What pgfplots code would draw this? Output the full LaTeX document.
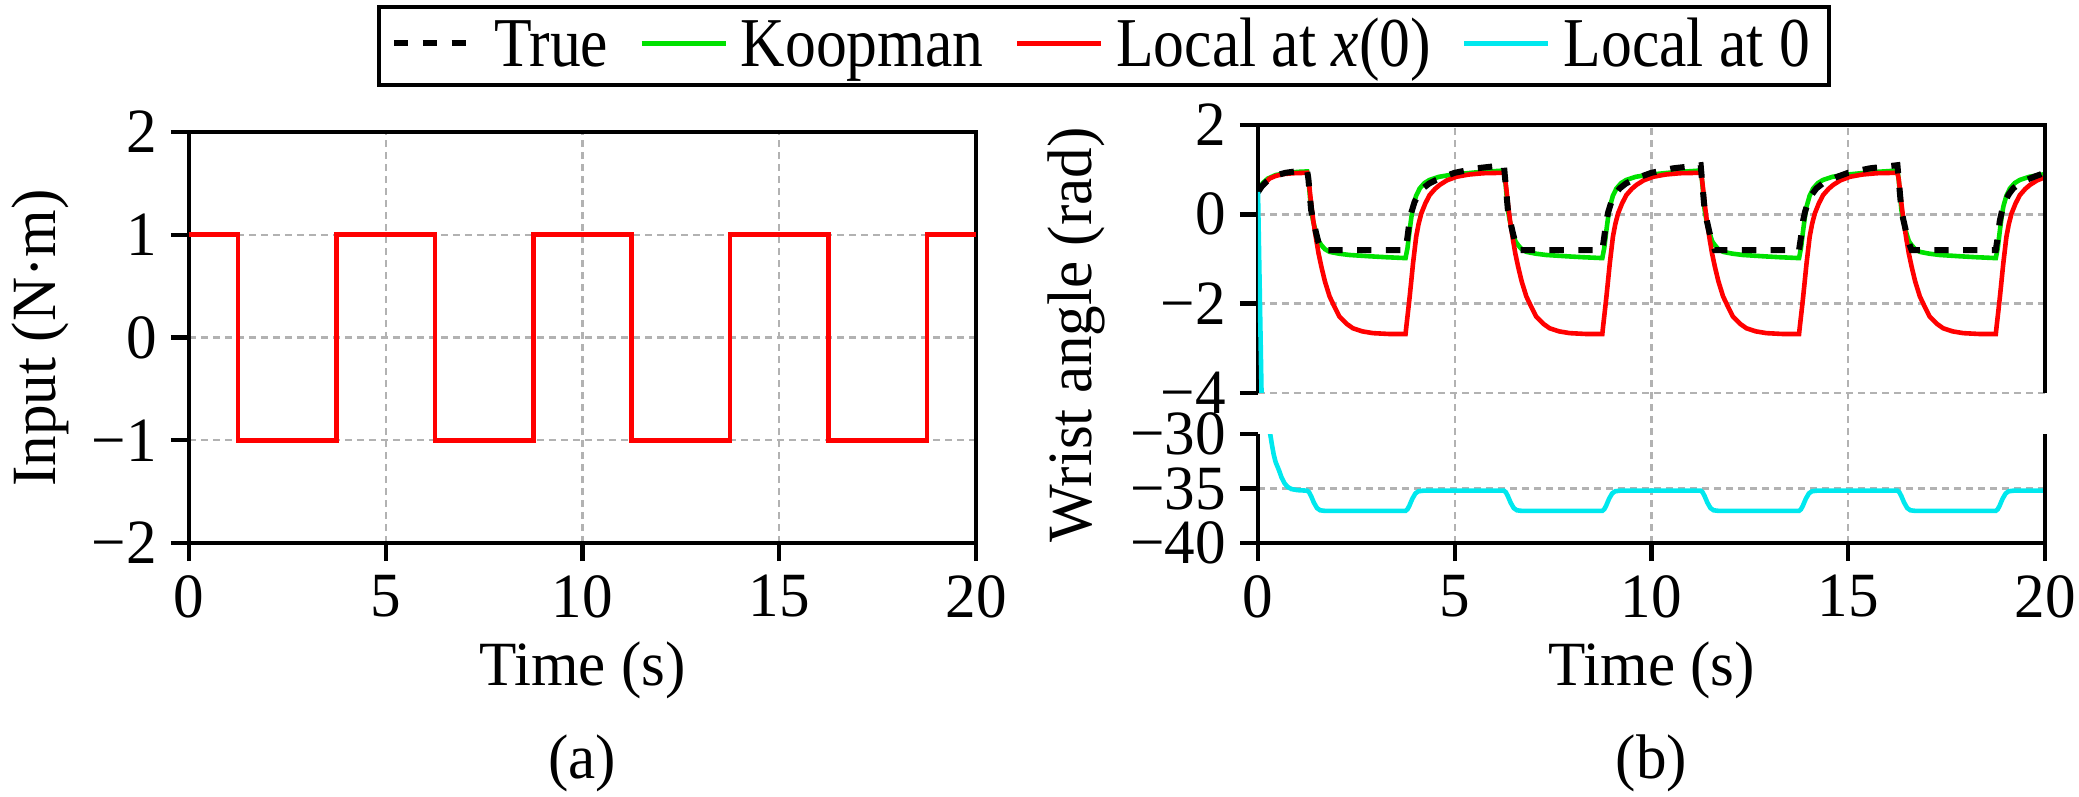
\documentclass[border=0pt]{standalone}
\usepackage{fontspec}
\setmainfont{Liberation Serif}[FakeStretch=0.97]
\newfontfamily\legfont{Liberation Serif}[FakeStretch=0.88]
\usepackage{pgfplots}
\usepackage{pgfplotstable}
\pgfplotsset{compat=1.18}
\definecolor{kgreen}{RGB}{0,225,0}
\definecolor{kred}{RGB}{255,0,0}
\definecolor{kcyan}{RGB}{0,232,238}
\newcommand{\lblfont}{\fontsize{15.75}{18}\selectfont}

\pgfplotstableread{
t y
0 1
1.25 1
1.25 -1
3.75 -1
3.75 1
6.25 1
6.25 -1
8.75 -1
8.75 1
11.25 1
11.25 -1
13.75 -1
13.75 1
16.25 1
16.25 -1
18.75 -1
18.75 1
20 1
}\inputdata

\pgfplotstableread{
t y
0 0.50
0.1 0.63
0.2 0.72
0.35 0.82
0.5 0.88
0.7 0.93
0.95 0.96
1.25 0.97
1.28 0.80
1.31 0.50
1.35 0.10
1.40 -0.12
1.48 -0.43
1.54 -0.64
1.61 -0.80
3.75 -0.80
3.80 -0.50
3.85 -0.15
3.90 0.05
3.98 0.28
4.08 0.45
4.19 0.58
4.35 0.69
4.53 0.77
4.75 0.85
5.00 0.93
5.55 1.03
6.25 1.10
6.28 0.80
6.31 0.50
6.35 0.10
6.40 -0.12
6.48 -0.43
6.54 -0.64
6.61 -0.80
8.75 -0.80
8.80 -0.50
8.85 -0.15
8.90 0.05
8.98 0.28
9.08 0.45
9.19 0.58
9.35 0.69
9.53 0.77
9.75 0.85
10.00 0.93
10.55 1.03
11.25 1.10
11.28 0.80
11.31 0.50
11.35 0.10
11.40 -0.12
11.48 -0.43
11.54 -0.64
11.61 -0.80
13.75 -0.80
13.80 -0.50
13.85 -0.15
13.90 0.05
13.98 0.28
14.08 0.45
14.19 0.58
14.35 0.69
14.53 0.77
14.75 0.85
15.00 0.93
15.55 1.03
16.25 1.10
16.28 0.80
16.31 0.50
16.35 0.10
16.40 -0.12
16.48 -0.43
16.54 -0.64
16.61 -0.80
18.75 -0.80
18.80 -0.50
18.85 -0.15
18.90 0.05
18.98 0.28
19.08 0.45
19.19 0.58
19.35 0.69
19.53 0.77
19.75 0.85
20.00 0.93
}\truedata

\pgfplotstableread{
t y
0 0.50
0.05 0.60
0.12 0.70
0.25 0.80
0.45 0.88
0.70 0.92
1.00 0.95
1.25 0.96
1.28 0.80
1.31 0.50
1.35 0.10
1.40 -0.15
1.48 -0.43
1.54 -0.60
1.61 -0.69
1.70 -0.78
1.82 -0.84
2.05 -0.88
2.32 -0.91
2.85 -0.94
3.25 -0.96
3.75 -0.98
3.80 -0.75
3.855 -0.35
3.90 -0.05
3.94 0.17
4.02 0.42
4.11 0.58
4.23 0.70
4.36 0.77
4.60 0.84
4.87 0.88
5.55 0.94
6.25 0.98
6.28 0.80
6.31 0.50
6.35 0.10
6.40 -0.15
6.48 -0.43
6.54 -0.60
6.61 -0.69
6.70 -0.78
6.82 -0.84
7.05 -0.88
7.32 -0.91
7.85 -0.94
8.25 -0.96
8.75 -0.98
8.80 -0.75
8.855 -0.35
8.90 -0.05
8.94 0.17
9.02 0.42
9.11 0.58
9.23 0.70
9.36 0.77
9.60 0.84
9.87 0.88
10.55 0.94
11.25 0.98
11.28 0.80
11.31 0.50
11.35 0.10
11.40 -0.15
11.48 -0.43
11.54 -0.60
11.61 -0.69
11.70 -0.78
11.82 -0.84
12.05 -0.88
12.32 -0.91
12.85 -0.94
13.25 -0.96
13.75 -0.98
13.80 -0.75
13.855 -0.35
13.90 -0.05
13.94 0.17
14.02 0.42
14.11 0.58
14.23 0.70
14.36 0.77
14.60 0.84
14.87 0.88
15.55 0.94
16.25 0.98
16.28 0.80
16.31 0.50
16.35 0.10
16.40 -0.15
16.48 -0.43
16.54 -0.60
16.61 -0.69
16.70 -0.78
16.82 -0.84
17.05 -0.88
17.32 -0.91
17.85 -0.94
18.25 -0.96
18.75 -0.98
18.80 -0.75
18.855 -0.35
18.90 -0.05
18.94 0.17
19.02 0.42
19.11 0.58
19.23 0.70
19.36 0.77
19.60 0.84
19.87 0.88
20.00 0.90
}\koopdata

\pgfplotstableread{
t y
0 0.50
0.10 0.62
0.20 0.72
0.29 0.80
0.45 0.86
0.63 0.90
0.90 0.92
1.25 0.93
1.28 0.80
1.31 0.58
1.35 0.25
1.41 -0.17
1.48 -0.57
1.54 -0.88
1.61 -1.17
1.70 -1.50
1.82 -1.84
1.95 -2.08
2.07 -2.29
2.25 -2.45
2.41 -2.55
2.65 -2.62
2.92 -2.66
3.35 -2.68
3.75 -2.68
3.77 -2.51
3.81 -2.20
3.855 -1.84
3.90 -1.45
3.94 -1.10
4.02 -0.50
4.08 -0.22
4.15 0.02
4.25 0.24
4.36 0.43
4.50 0.57
4.62 0.66
4.80 0.76
5.04 0.84
5.35 0.89
5.72 0.92
6.25 0.93
6.28 0.80
6.31 0.58
6.35 0.25
6.41 -0.17
6.48 -0.57
6.54 -0.88
6.61 -1.17
6.70 -1.50
6.82 -1.84
6.95 -2.08
7.07 -2.29
7.25 -2.45
7.41 -2.55
7.65 -2.62
7.92 -2.66
8.35 -2.68
8.75 -2.68
8.77 -2.51
8.81 -2.20
8.855 -1.84
8.90 -1.45
8.94 -1.10
9.02 -0.50
9.08 -0.22
9.15 0.02
9.25 0.24
9.36 0.43
9.50 0.57
9.62 0.66
9.80 0.76
10.04 0.84
10.35 0.89
10.72 0.92
11.25 0.93
11.28 0.80
11.31 0.58
11.35 0.25
11.41 -0.17
11.48 -0.57
11.54 -0.88
11.61 -1.17
11.70 -1.50
11.82 -1.84
11.95 -2.08
12.07 -2.29
12.25 -2.45
12.41 -2.55
12.65 -2.62
12.92 -2.66
13.35 -2.68
13.75 -2.68
13.77 -2.51
13.81 -2.20
13.855 -1.84
13.90 -1.45
13.94 -1.10
14.02 -0.50
14.08 -0.22
14.15 0.02
14.25 0.24
14.36 0.43
14.50 0.57
14.62 0.66
14.80 0.76
15.04 0.84
15.35 0.89
15.72 0.92
16.25 0.93
16.28 0.80
16.31 0.58
16.35 0.25
16.41 -0.17
16.48 -0.57
16.54 -0.88
16.61 -1.17
16.70 -1.50
16.82 -1.84
16.95 -2.08
17.07 -2.29
17.25 -2.45
17.41 -2.55
17.65 -2.62
17.92 -2.66
18.35 -2.68
18.75 -2.68
18.77 -2.51
18.81 -2.20
18.855 -1.84
18.90 -1.45
18.94 -1.10
19.02 -0.50
19.08 -0.22
19.15 0.02
19.25 0.24
19.36 0.43
19.50 0.57
19.62 0.66
19.80 0.76
20.00 0.83
}\localxdata

\pgfplotstableread{
t y
0 0.5
0.10 -4.5
0.31 -30.0
0.35 -30.9
0.40 -31.9
0.45 -32.6
0.53 -33.3
0.60 -34.0
0.67 -34.5
0.75 -34.85
0.85 -35.05
1.00 -35.15
1.25 -35.20
1.30 -35.35
1.35 -35.70
1.42 -36.30
1.50 -36.80
1.58 -37.00
1.70 -37.05
3.75 -37.05
3.80 -36.90
3.85 -36.55
3.92 -35.95
4.00 -35.45
4.08 -35.25
4.20 -35.20
6.25 -35.20
6.30 -35.35
6.35 -35.70
6.42 -36.30
6.50 -36.80
6.58 -37.00
6.70 -37.05
8.75 -37.05
8.80 -36.90
8.85 -36.55
8.92 -35.95
9.00 -35.45
9.08 -35.25
9.20 -35.20
11.25 -35.20
11.30 -35.35
11.35 -35.70
11.42 -36.30
11.50 -36.80
11.58 -37.00
11.70 -37.05
13.75 -37.05
13.80 -36.90
13.85 -36.55
13.92 -35.95
14.00 -35.45
14.08 -35.25
14.20 -35.20
16.25 -35.20
16.30 -35.35
16.35 -35.70
16.42 -36.30
16.50 -36.80
16.58 -37.00
16.70 -37.05
18.75 -37.05
18.80 -36.90
18.85 -36.55
18.92 -35.95
19.00 -35.45
19.08 -35.25
19.20 -35.20
20.00 -35.20
}\localzdata

\pgfplotsset{
  base/.style={
    scale only axis,
    xmin=0, xmax=20,
    tick align=outside,
    tick pos=left,
    major tick length=4.5pt,
    tick style={line width=1.1pt, black},
    axis line style={line width=1.1pt},
    grid style={gray!60, line width=0.6pt, dash pattern=on 1.8pt off 1.2pt},
    tick label style={font=\lblfont},
    yticklabel style={inner ysep=0pt},
  },
  dl/.style={line width=1.15pt},
  tl/.style={black, line width=1.5pt, dash pattern=on 3.6pt off 3.6pt},
}

\begin{document}
\begin{tikzpicture}
\useasboundingbox (0,0) rectangle (519.75pt,199pt);

% ---------- (a) input ----------
\begin{axis}[base,
  at={(47.25pt,63.25pt)}, anchor=south west,
  width=196.75pt, height=102.75pt,
  ymin=-2, ymax=2,
  xtick={0,5,10,15,20}, xticklabels={0,5,10,15,20},
  ytick={-2,-1,0,1,2}, yticklabels={−2,−1,0,1,2},
  grid=major,
]
\addplot[kred, dl] table[x=t, y=y] {\inputdata};
\end{axis}

% ---------- (b) background vertical grid ----------
\begin{axis}[scale only axis,
  at={(314.5pt,63.25pt)}, anchor=south west,
  width=196.75pt, height=104.5pt,
  xmin=0, xmax=20, ymin=0, ymax=1,
  xtick={5,10,15}, xticklabels={}, ytick=\empty,
  major tick length=0pt,
  axis line style={draw=none},
  xmajorgrids,
  grid style={gray!60, line width=0.6pt, dash pattern=on 1.8pt off 1.2pt},
]
\end{axis}

% ---------- (b) upper panel ----------
\begin{axis}[base,
  at={(314.5pt,100.75pt)}, anchor=south west,
  width=196.75pt, height=67pt,
  ymin=-4, ymax=2,
  xtick=\empty,
  ytick={-4,-2,0,2}, yticklabels={−4,−2,0,2},
  ymajorgrids,
  axis line style={draw=none},
  clip mode=individual,
  legend columns=4,
  legend cell align=left,
  legend image code/.code={\draw[#1] (0pt,5.75pt) -- (21pt,5.75pt);},
  legend style={
    at={(axis description cs:-0.19568,1.29478)}, anchor=center,
    draw=black, line width=1.1pt, fill=white,
    inner xsep=3pt, inner ysep=0.65pt,
    font=\fontsize{17.5}{20}\legfont,
    /tikz/every odd column/.append style={column sep=1.5pt},
    /tikz/every even column/.append style={column sep=6pt},
    nodes={inner xsep=1.75pt, inner ysep=0pt, text height=14.2pt, text depth=4pt, anchor=base},
  },
]
\addlegendimage{tl}
\addlegendentry{True}
\addlegendimage{kgreen, dl}
\addlegendentry{Koopman}
\addlegendimage{kred, dl}
\addlegendentry{Local at \textit{x}(0)}
\addlegendimage{kcyan, dl}
\addlegendentry{Local at 0}
\addplot[kgreen, dl, forget plot] table[x=t, y=y] {\koopdata};
\addplot[kred, dl, forget plot] table[x=t, y=y] {\localxdata};
\addplot[tl, forget plot] table[x=t, y=y] {\truedata};
\draw[line width=1.1pt] (rel axis cs:0,0) -- (rel axis cs:0,1) -- (rel axis cs:1,1) -- (rel axis cs:1,0);
\addplot[kcyan, dl, forget plot] table[x=t, y=y] {\localzdata};
\end{axis}

% ---------- (b) lower panel ----------
\begin{axis}[base,
  at={(314.5pt,63.25pt)}, anchor=south west,
  width=196.75pt, height=27.25pt,
  ymin=-40, ymax=-30,
  xtick={0,5,10,15,20}, xticklabels={0,5,10,15,20},
  ytick={-40,-35,-30}, yticklabels={−40,−35,−30},
  extra y ticks={-35}, extra y tick labels={},
  extra y tick style={grid=major, major tick length=0pt},
  axis line style={draw=none},
  clip mode=individual,
]
\addplot[kcyan, dl] table[x=t, y=y] {\localzdata};
\draw[line width=1.1pt] (rel axis cs:0,1) -- (rel axis cs:0,0) -- (rel axis cs:1,0) -- (rel axis cs:1,1);
\end{axis}

% ---------- labels ----------
\node[rotate=90, anchor=base, font=\lblfont, inner sep=0pt] at (13.75pt,114.5pt) {Input (N·m)};
\node[rotate=90, anchor=base, font=\lblfont, inner sep=0pt] at (272.75pt,115.25pt) {Wrist angle (rad)};
\node[anchor=base, font=\lblfont, inner sep=0pt] at (145.6pt,27.75pt) {Time (s)};
\node[anchor=base, font=\lblfont, inner sep=0pt] at (412.9pt,27.75pt) {Time (s)};
\node[anchor=base, font=\lblfont, inner sep=0pt] at (145.6pt,4.5pt) {(a)};
\node[anchor=base, font=\lblfont, inner sep=0pt] at (412.9pt,4.5pt) {(b)};
\end{tikzpicture}
\end{document}
